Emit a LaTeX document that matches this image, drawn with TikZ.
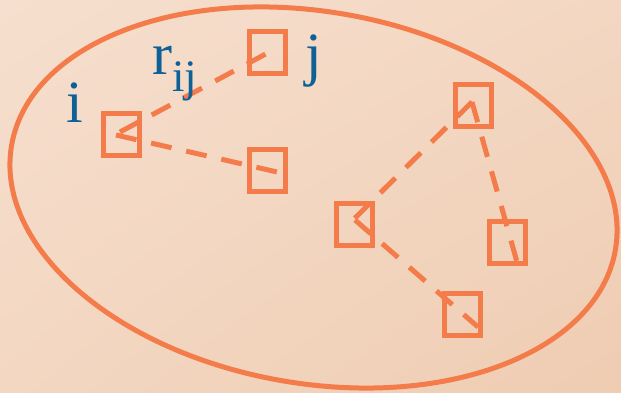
\documentclass[tikz,border=0pt]{standalone}
\usepackage{fontspec}
\setmainfont{Liberation Serif}
\usetikzlibrary{shadings,calc}
\definecolor{peachA}{RGB}{246,223,206}
\definecolor{peachM}{RGB}{243,215,194}
\definecolor{peachB}{RGB}{239,204,178}
\definecolor{accent}{RGB}{244,124,74}
\definecolor{ink}{RGB}{14,96,150}
\tikzset{
  site/.style={draw=accent, line width=5pt, minimum width=36pt, minimum height=42pt,
               inner sep=0pt, outer sep=0pt},
  bond/.style={draw=accent, line width=5pt, dash pattern=on 21pt off 15pt},
  lbl/.style={text=ink, inner sep=0pt, anchor=base west,
              font=\fontsize{60}{62}\selectfont}
}
\begin{document}
\begin{tikzpicture}[x=1pt,y=1pt]
\useasboundingbox (0,0) rectangle (621,393);
% background
\shade[upper left=peachA, upper right=peachM, lower left=peachM, lower right=peachB]
  (0,0) rectangle (621,393);
% enclosing ellipse
\draw[accent, line width=5pt, rotate around={-9.86:(313.5,195.5)}]
  (313.5,195.5) ellipse [x radius=306.4, y radius=185.9];
% particles
\node[site] (pi) at (121,258) {};
\node[site] (pj) at (267.5,340) {};
\node[site] (pk) at (267.5,222.5) {};
\node[site] (pp) at (473.5,287) {};
\node[site] (pq) at (354.5,168.5) {};
\node[site] (ps) at (507.5,150) {};
\node[site] (pt) at (462.5,78.5) {};
% pair separations
\draw[bond] ($(pi.center)+(-1,3)$) -- (pj.center);
\draw[bond] ($(pi.center)+(-5,0)$) -- ($(pk.center)+(9.5,-1.5)$);
\draw[bond] ($(pp.center)+(-1.5,4)$) -- ($(pq.center)+(-1.5,4.5)$);
\draw[bond] ($(pq.center)+(0.5,4.5)$) -- ($(pt.center)+(15.5,-12.5)$);
\draw[bond] ($(pp.center)+(-1.5,4)$) -- ($(ps.center)+(9.5,-19)$);
% labels
\node[lbl] (li) at (66,270) {i};
\node[lbl] (lr) at (152,318) {r\raisebox{-17pt}{\fontsize{45}{45}\selectfont ij}};
\node[lbl] (lj) at (305,318) {j};
\end{tikzpicture}
\end{document}
